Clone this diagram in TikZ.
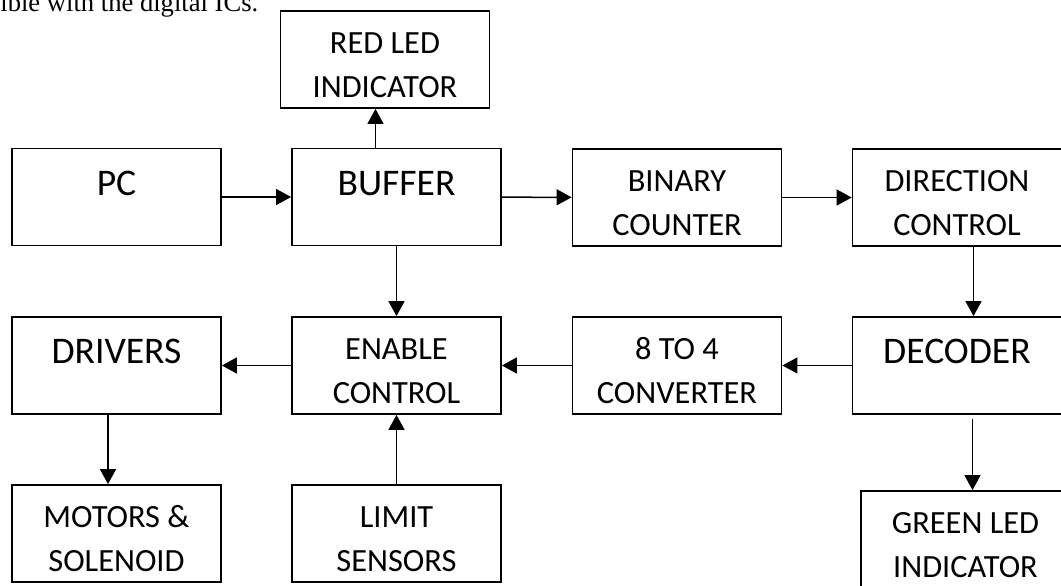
\documentclass[tikz,border=0pt]{standalone}
\usepackage{fontspec}
\setmainfont{Carlito}
\newfontfamily\capfont{Liberation Serif}
\usetikzlibrary{arrows.meta}

\begin{document}
\begin{tikzpicture}[x=0.5pt,y=-0.5pt,
  blk/.style={draw,line width=0.9pt,minimum width=104.5pt,minimum height=48.5pt,inner sep=0pt,align=center,font=\fontsize{16.2}{22}\selectfont,text height=37.9pt,text depth=0pt},
  one/.style={font=\fontsize{18.8}{22}\selectfont,text height=12pt,text depth=13.9pt},
  arr/.style={line width=0.75pt,-{Triangle[length=7.5pt,width=8pt]}}]
\useasboundingbox (0,0) rectangle (1061,585);
\node[anchor=base west,inner sep=0pt,font=\capfont\fontsize{13.3}{16}\selectfont] (cap) at (0,11) {ible with the digital ICs.};

\node[blk] (red) at (385,59.5) {RED LED\\INDICATOR};
\node[blk,one] (pc) at (116.5,197) {PC};
\node[blk,one] (buf) at (396.5,197) {BUFFER};
\node[blk] (bin) at (677,197.5) {BINARY\\COUNTER};
\node[blk] (dir) at (957,197.5) {DIRECTION\\CONTROL};
\node[blk,one] (drv) at (116.5,365.5) {DRIVERS};
\node[blk] (enb) at (396.5,365.5) {ENABLE\\CONTROL};
\node[blk] (cnv) at (677,365.5) {8 TO 4\\CONVERTER};
\node[blk,one] (dec) at (957,365.5) {DECODER};
\node[blk] (mot) at (116.5,533.5) {MOTORS \&\\SOLENOID};
\node[blk] (lim) at (396.5,533.5) {LIMIT\\SENSORS};
\node[blk] (grn) at (965.5,539.5) {GREEN LED\\INDICATOR};

\draw[arr] (pc) -- (buf);
\draw[arr] ([xshift=-10.5pt]buf.north) -- ([xshift=-10.5pt]buf.north |- red.south);
\draw[arr] (buf) -- (bin);
\draw[arr] (bin) -- (dir);
\draw[arr] ([xshift=8.25pt]dir.south) -- ([xshift=8.25pt]dir.south |- dec.north);
\draw[arr] (dec) -- (cnv);
\draw[arr] (cnv) -- (enb);
\draw[arr] (enb) -- (drv);
\draw[arr] (buf) -- (enb);
\draw[arr] (lim) -- (enb);
\draw[arr] ([xshift=-4.25pt]drv.south) -- ([xshift=-4.25pt]drv.south |- mot.north);
\draw[arr] ([xshift=7.75pt,yshift=-2pt]dec.south) -- ([xshift=7.75pt]dec.south |- grn.north);
\end{tikzpicture}
\end{document}
